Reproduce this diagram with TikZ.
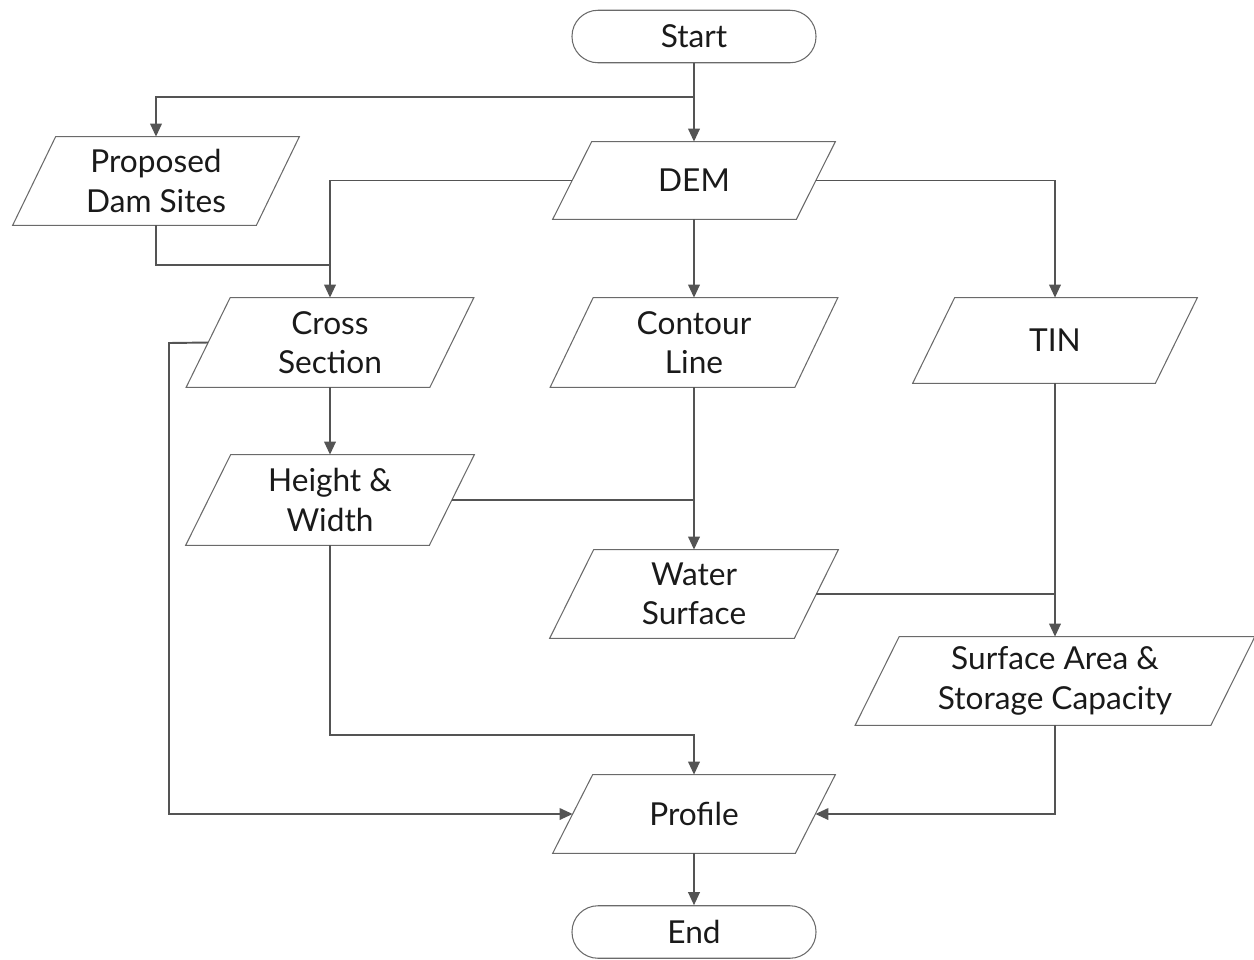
\documentclass[tikz,border=0pt]{standalone}
\usepackage{fontspec}
\setmainfont{Lato}
\usetikzlibrary{arrows.meta}
\definecolor{edge}{HTML}{545454}
\definecolor{frame}{HTML}{6A6A6A}
\definecolor{ink}{HTML}{1A1A1A}
\tikzset{
  box/.style={inner sep=0pt, align=center, font=\fontsize{18}{22.5}\selectfont, text=ink},
  term/.style={box, draw=frame, line width=0.6pt, rounded corners=5.2mm,
               minimum width=48.8mm, minimum height=10.5mm},
  io/.style={box},
  link/.style={draw=edge, line width=1.1pt},
  arr/.style={link, -{Triangle[length=2.6mm,width=2.3mm]}},
  outline/.style={draw=frame, line width=0.6pt, line join=miter}
}
\begin{document}
\begin{tikzpicture}[x=0.2mm, y=-0.2mm]
\useasboundingbox (0,0) rectangle (1254,959);

% terminals
\node[term] (start) at (694,36.5) {Start};
\node[term] (end)   at (694,932)  {End};

% data blocks (text boxes; the slanted outlines are drawn below)
\node[io, minimum width=48.6mm, minimum height=17.6mm] (dam)     at (156,181)   {Proposed\\Dam Sites};
\node[io, minimum width=48.6mm, minimum height=15.4mm] (dem)     at (694,180.5) {DEM};
\node[io, minimum width=48.6mm, minimum height=17.8mm] (cross)   at (330,342.5) {Cross\\Section};
\node[io, minimum width=48.8mm, minimum height=17.8mm] (contour) at (694,342.5) {Contour\\Line};
\node[io, minimum width=48.4mm, minimum height=17.0mm] (tin)     at (1055,340.5){TIN};
\node[io, minimum width=48.6mm, minimum height=18.0mm] (hw)      at (330,500)   {Height \&\\Width};
\node[io, minimum width=48.8mm, minimum height=17.6mm] (water)   at (694,594)   {Water\\Surface};
\node[io, minimum width=71.0mm, minimum height=17.6mm] (surf)    at (1055,681)  {Surface Area \&\\Storage Capacity};
\node[io, minimum width=48.4mm, minimum height=15.6mm] (profile) at (694,814)   {Profile};

% parallelogram outlines (name / horizontal slant)
\foreach \n/\s in {dam/43, dem/39, cross/44, contour/43, tin/42, hw/45, water/44, surf/44, profile/40}{
  \draw[outline] ([xshift=\s*0.1mm]\n.north west) -- ([xshift=\s*0.1mm]\n.north east)
    -- ([xshift=-\s*0.1mm]\n.south east) -- ([xshift=-\s*0.1mm]\n.south west) -- cycle;
}

% junction points
\coordinate (split) at (694,97);
\coordinate (mergeA) at (330,265);
\coordinate (leftrail) at (169,343);
\coordinate (elbow) at (330,735);

% connectors
\draw[arr] (start.south) -- (dem.north);
\draw[arr] (split) -| (dam.north);
\draw[arr] (dem.west) -| (cross.north);
\draw[link] (dam.south) |- (mergeA);
\draw[arr] (dem.south) -- (contour.north);
\draw[arr] (dem.east) -| (tin.north);
\draw[arr] (cross.west) -- (leftrail) |- (profile.west);
\draw[arr] (cross.south) -- (hw.north);
\draw[link] (hw.east) -- (contour.south |- hw.east);
\draw[arr] (contour.south) -- (water.north);
\draw[arr] (hw.south) -- (elbow) -| (profile.north);
\draw[link] (water.east) -- (tin.south |- water.east);
\draw[arr] (tin.south) -- (surf.north);
\draw[arr] (surf.south) |- (profile.east);
\draw[arr] (profile.south) -- (end.north);
\end{tikzpicture}
\end{document}
